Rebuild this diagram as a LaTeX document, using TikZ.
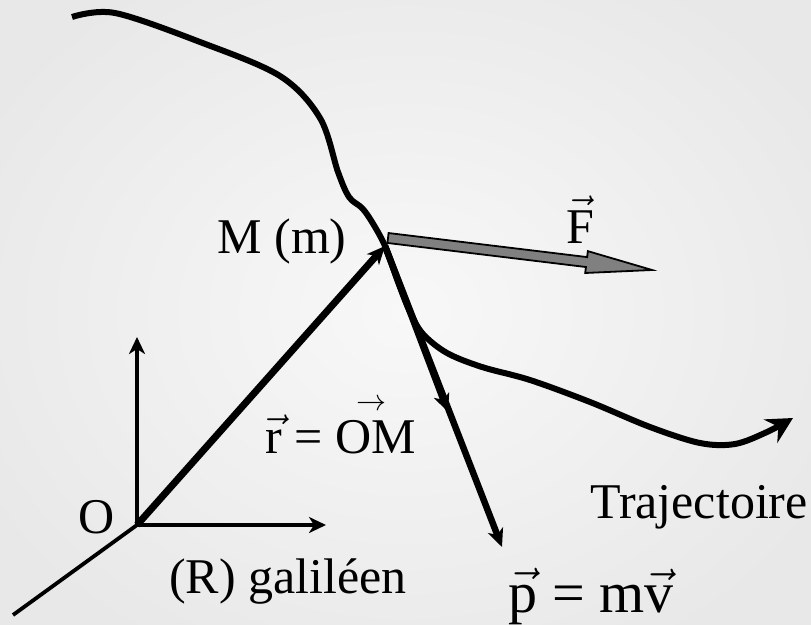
\documentclass[tikz,border=0pt]{standalone}
\usepackage{fix-cm}
\usepackage{fontspec}
\setmainfont{Liberation Serif}
\usepackage{graphicx}
\usetikzlibrary{arrows.meta}
\definecolor{bgin}{RGB}{248,248,248}
\definecolor{bgout}{RGB}{232,232,232}
\definecolor{fgray}{RGB}{128,128,128}
\begin{document}
\begin{tikzpicture}[x=1pt,y=-1pt,
  lbl/.style={font=\fontsize{50}{60}\selectfont, inner sep=0pt, anchor=base, text=black},
  biglbl/.style={font=\fontsize{58}{68}\selectfont, inner sep=0pt, anchor=base, text=black},
  axisline/.style={line width=3.5pt, -{Stealth[length=17pt,width=16pt,inset=5pt]}},
  vecline/.style={line width=6.5pt, -{Stealth[length=18pt,width=16pt,inset=5pt]}},
  trajline/.style={line width=6pt, line join=round, -{Stealth[length=26pt,width=27pt,inset=9pt]}},
  forcebox/.style={fill=fgray, draw=black, line width=1.8pt, line join=miter}]
\useasboundingbox (0,0) rectangle (811,624);
\shade[inner color=bgin, outer color=bgout] (-80,-80) rectangle (891,704);

% key points
\coordinate (M) at (385,246);
\coordinate (O) at (137,525);
\coordinate (Yend) at (137,337);
\coordinate (Xend) at (326,525);
\coordinate (Zend) at (13,615);
\coordinate (Vend) at (448,412);
\coordinate (Pend) at (502,547);
\coordinate (Fs) at (388,238);

% trajectory
\draw[trajline] plot[smooth, tension=0.55] coordinates {(72,17) (115,13) (200,42) (280,76) (320,118) (338,172) (349,197) (362,208) (372,222) (385,246) (398,282) (410,312) (423,334) (447,353) (482,367) (530,380) (590,402) (650,427) (700,443) (735,444) (767,432) (793,418)};

% frame of reference
\draw[axisline] (O) -- (Yend);
\draw[axisline] (O) -- (Xend);
\draw[line width=3.8pt] (O) -- (Zend);

% position vector
\draw[vecline, line width=7pt] (O) -- (M);

% velocity and momentum
\draw[vecline] (M) -- (Vend);
\draw[vecline] (M) -- (Pend);

% force
\begin{scope}[shift={(Fs)}, rotate=-6.91]
\draw[forcebox] (0,-5) -- (200,-5) -- (200,-11) -- (266,0) -- (200,11) -- (200,5) -- (0,5) -- cycle;
\end{scope}

% labels
\node[lbl] (lM) at (282,253) {M (m)};
\node[lbl] (lF) at (580,243) {\(\vec{\mbox{F}}\)};
\node[lbl] (lr) at (341,453) {\(\vec{\mbox{r}}\) = O\makebox[0pt][c]{\raisebox{0.85em}{\scalebox{0.6}{\(\rightarrow\)}}}M};
\node[lbl] (lO) at (97,533) {O};
\node[lbl] (lR) at (288,593) {(R) galiléen};
\node[lbl] (lT) at (699,518) {Trajectoire};
\node[biglbl] (lp) at (591,612) {\(\vec{\mbox{p}}\) = m\(\vec{\mbox{v}}\)};
\end{tikzpicture}
\end{document}
